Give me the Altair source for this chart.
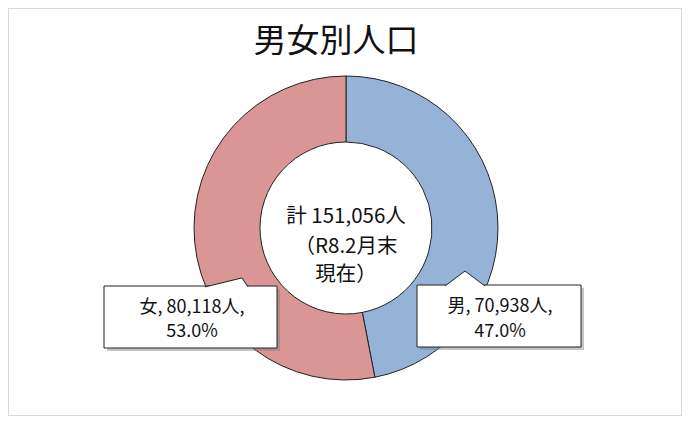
import altair as alt
import pandas as pd

# ---- data ----
title_text = "男女別人口"
categories = ["男", "女"]
populations = [70938, 80118]
percents = [47.0, 53.0]
slice_colors = ["#95B3D7", "#D99694"]
as_of = "R8.2月末"
total = sum(populations)

df = pd.DataFrame({
    "cat": categories,
    "pop": populations,
    "pct": percents,
    "ord": list(range(len(categories))),
})
df["line1"] = [f"{c}, {p:,}人," for c, p in zip(categories, populations)]
df["line2"] = [f"{q:.1f}%" for q in percents]

center_lines = [f"計 {total:,}人", f"（{as_of}", "現在）"]

FONT = "Noto Sans CJK JP"
W, H = 674, 408
CX, CY = 338, 220

base = alt.Chart(df)

donut = base.mark_arc(outerRadius=152, innerRadius=86, stroke="#222222", strokeWidth=1).encode(
    theta=alt.Theta("pop:Q", stack=True),
    order=alt.Order("ord:Q"),
    color=alt.Color("cat:N", scale=alt.Scale(domain=categories, range=slice_colors), legend=None),
    x=alt.value(CX),
    y=alt.value(CY),
)

title = alt.Chart(pd.DataFrame({"t": [title_text]})).mark_text(
    font=FONT, fontSize=33, color="#111111", baseline="middle", align="center"
).encode(text="t:N", x=alt.value(328), y=alt.value(34))

cdf = pd.DataFrame({"t": center_lines, "i": list(range(len(center_lines)))})
center_layers = []
for i, yy in enumerate([209, 239, 267]):
    center_layers.append(
        alt.Chart(cdf).transform_filter(alt.datum.i == i).mark_text(
            font=FONT, fontSize=20.5, color="#111111", baseline="middle", align="center"
        ).encode(text="t:N", x=alt.value(CX), y=alt.value(yy))
    )

def callout(cat, x1, x2, y1, y2, wx, wy, wsize, wpath, tx, ty1, ty2):
    src = base.transform_filter(alt.datum.cat == cat)
    shadow = src.mark_rect(fill="#7f7f7f", opacity=0.45).encode(
        x=alt.value(x1 + 3), x2=alt.value(x2 + 3), y=alt.value(y1 + 3), y2=alt.value(y2 + 3))
    box = src.mark_rect(fill="white", stroke="#222222", strokeWidth=1).encode(
        x=alt.value(x1), x2=alt.value(x2), y=alt.value(y1), y2=alt.value(y2))
    wedge = src.mark_point(shape=wpath, filled=True, fill="white", stroke="#222222",
                           strokeWidth=1, opacity=1, fillOpacity=1).encode(
        x=alt.value(wx), y=alt.value(wy), size=alt.value(wsize))
    t1 = src.mark_text(font=FONT, fontSize=18, color="#111111", baseline="middle", align="center").encode(
        text="line1:N", x=alt.value(tx), y=alt.value(ty1))
    t2 = src.mark_text(font=FONT, fontSize=18, color="#111111", baseline="middle", align="center").encode(
        text="line2:N", x=alt.value(tx), y=alt.value(ty2))
    return [shadow, box, wedge, t1, t2]

female = callout("女", 96, 269, 278, 340, 218.5, 272.5, 1849,
                 "M-1,0.3L0.72,-0.12L1,0.3", 184, 300, 324)
male = callout("男", 409, 573, 277, 339, 457, 272, 1600,
               "M-1,0.3L0,-0.45L1,0.3", 492, 299, 324)

chart = alt.layer(donut, *female, *male, title, *center_layers).properties(
    width=W, height=H, padding=0, autosize="none", background="white"
).configure_view(stroke="#d9d9d9", strokeWidth=2)

chart.save("out.html", embed_options={"renderer": "svg", "actions": False})
